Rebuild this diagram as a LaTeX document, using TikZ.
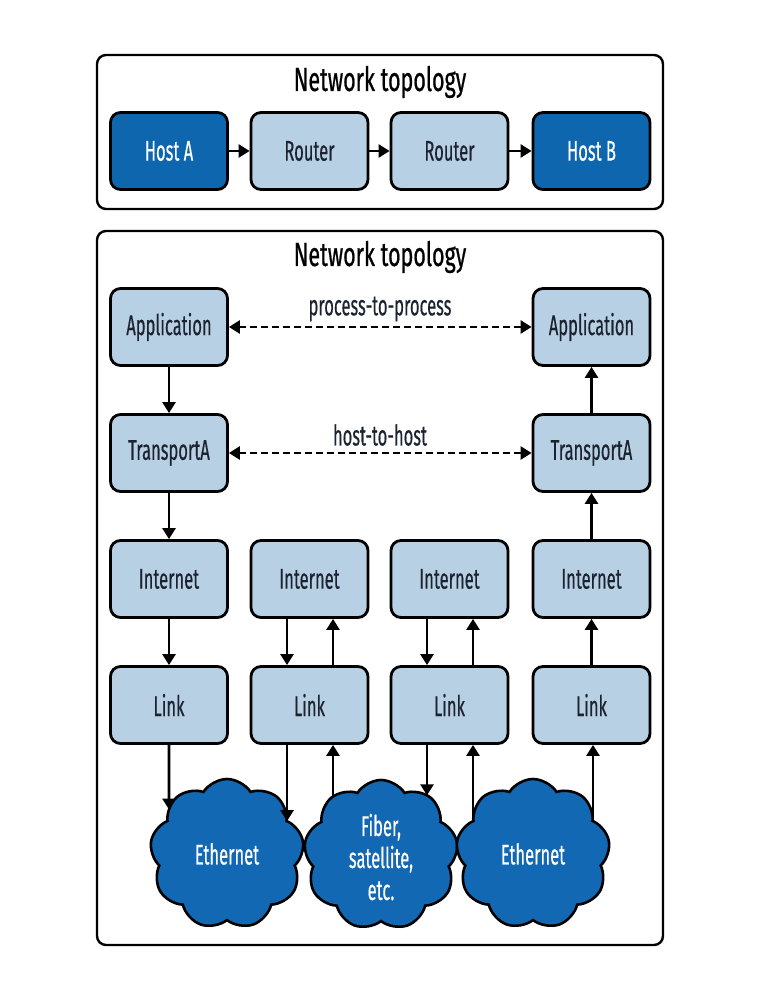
\documentclass[tikz,border=0pt]{standalone}
\usepackage{fontspec}
\setmainfont[FakeStretch=0.64,FakeBold=0.6]{Fira Sans}
\newfontfamily\boxfont[FakeStretch=0.58,FakeBold=0.35]{Fira Sans}
\usetikzlibrary{arrows.meta,shapes.symbols,intersections}
\definecolor{darkblue}{HTML}{0E66AE}
\definecolor{lightblue}{HTML}{B8D0E3}
\definecolor{txtdark}{HTML}{1B2230}
\definecolor{cloudblue}{HTML}{1268B2}
\tikzset{
  frame/.style={draw=black, line width=2.4pt, rounded corners=9pt, fill=white},
  layerbox/.style={draw=black, line width=2.8pt, rounded corners=10pt, fill=lightblue,
    minimum width=117pt, minimum height=77pt, inner sep=0pt, text=txtdark,
    font=\boxfont\fontsize{28.5}{32}\selectfont},
  hostbox/.style={layerbox, fill=darkblue, text=white},
  title/.style={font=\fontsize{33.5}{38}\selectfont, text=black},
  lbl/.style={font=\boxfont\fontsize{28.5}{32}\selectfont, text=txtdark},
  cloudshape/.style={cloud, cloud puffs=9, cloud puff arc=115, aspect=1.0,
    draw=black, line width=2.6pt, fill=cloudblue,
    minimum width=154pt, minimum height=150pt, inner sep=0pt},
  cloudtxt/.style={font=\boxfont\fontsize{28.5}{32}\selectfont, text=white, align=center},
  arr/.style={line width=2.6pt, -{Triangle[length=11pt,width=13pt]}},
  darr/.style={line width=2.6pt, dash pattern=on 7pt off 4pt,
    {Triangle[length=11pt,width=13pt]}-{Triangle[length=11pt,width=13pt]}}
}
\begin{document}
\begin{tikzpicture}[x=1pt,y=-1pt]
\useasboundingbox (0,0) rectangle (761,1000);
% frames
\draw[frame] (97,55) rectangle (663,209);
\draw[frame] (97,231) rectangle (663,945);
\node[title] (t1) at (380,82) {Network topology};
\node[title] (t2) at (380,257) {Network topology};
% top row
\node[hostbox] (hA) at (169,151) {Host A};
\node[layerbox] (r1) at (309.5,151) {Router};
\node[layerbox] (r2) at (449.5,151) {Router};
\node[hostbox] (hB) at (591.5,151) {Host B};
\draw[arr] (hA) -- (r1);
\draw[arr] (r1) -- (r2);
\draw[arr] (r2) -- (hB);
% layers
\node[layerbox] (a1) at (169,327) {Application};
\node[layerbox] (a4) at (591.5,327) {Application};
\node[layerbox] (tr1) at (169,453) {TransportA};
\node[layerbox] (tr4) at (591.5,453) {TransportA};
\node[layerbox] (i1) at (169,579) {Internet};
\node[layerbox] (i2) at (309.5,579) {Internet};
\node[layerbox] (i3) at (449.5,579) {Internet};
\node[layerbox] (i4) at (591.5,579) {Internet};
\node[layerbox] (l1) at (169,705) {Link};
\node[layerbox] (l2) at (309.5,705) {Link};
\node[layerbox] (l3) at (449.5,705) {Link};
\node[layerbox] (l4) at (591.5,705) {Link};
% dashed peer arrows
\draw[darr] (a1) -- (a4);
\draw[darr] (tr1) -- (tr4);
\node[lbl] (pp) at (380,309) {process-to-process};
\node[lbl] (hh) at (380,435) {host-to-host};
% vertical arrows
\draw[arr] (a1) -- (tr1);
\draw[arr] (tr1) -- (i1);
\draw[arr] (i1) -- (l1);
\draw[arr] (tr4) -- (a4);
\draw[arr] (i4) -- (tr4);
\draw[arr] (l4) -- (i4);
\draw[arr] (i2.south -| 287,0) -- (l2.north -| 287,0);
\draw[arr] (l2.north -| 333,0) -- (i2.south -| 333,0);
\draw[arr] (i3.south -| 427,0) -- (l3.north -| 427,0);
\draw[arr] (l3.north -| 473,0) -- (i3.south -| 473,0);
% clouds
\node[cloudshape, name path=cp1] (c1) at (227,854) {};
\node[cloudshape, name path=cp2] (c2) at (381,855) {};
\node[cloudshape, name path=cp3] (c3) at (533,854) {};
\node[cloudtxt] (ct1) at (c1) {Ethernet};
\node[cloudtxt] (ct2) at (381,857) {Fiber,\\satellite,\\etc.};
\node[cloudtxt] (ct3) at (c3) {Ethernet};
% cloud arrows
\path[name path=v1] (l1.south) -- ++(0,200);
\path[name path=v2] (l2.south -| 287,0) -- ++(0,200);
\path[name path=v3] (l2.south -| 333,0) -- ++(0,200);
\path[name path=v4] (l3.south -| 427,0) -- ++(0,200);
\path[name path=v5] (l3.south -| 473,0) -- ++(0,200);
\path[name path=v6] (l4.south -| 593,0) -- ++(0,200);
\path[name intersections={of=v1 and cp1, sort by=v1, name=x1}];
\path[name intersections={of=v2 and cp1, sort by=v2, name=x2}];
\path[name intersections={of=v3 and cp2, sort by=v3, name=x3}];
\path[name intersections={of=v4 and cp2, sort by=v4, name=x4}];
\path[name intersections={of=v5 and cp3, sort by=v5, name=x5}];
\path[name intersections={of=v6 and cp3, sort by=v6, name=x6}];
\coordinate (e1) at (x1-1);
\coordinate (e2) at (x2-1);
\coordinate (e3) at (x3-1);
\coordinate (e4) at (x4-1);
\coordinate (e5) at (x5-1);
\coordinate (e6) at (x6-1);
\draw[arr] (l1.south) -- (e1);
\draw[arr] (l2.south -| e2) -- (e2);
\draw[arr] (e3) -- (l2.south -| e3);
\draw[arr] (l3.south -| e4) -- (e4);
\draw[arr] (e5) -- (l3.south -| e5);
\draw[arr] (e6) -- (l4.south -| e6);
\end{tikzpicture}
\end{document}
